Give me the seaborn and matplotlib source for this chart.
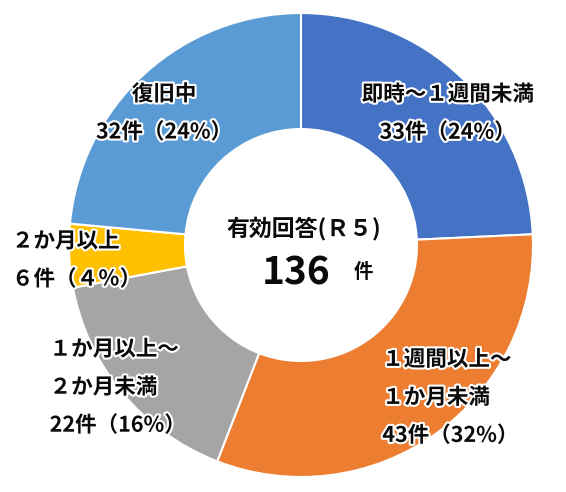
import numpy as np
import matplotlib
matplotlib.use('Agg')
import matplotlib.pyplot as plt
import matplotlib.patheffects as pe
import seaborn as sns

# data
categories = ['即時～１週間未満', '１週間以上～\n１か月未満', '１か月以上～\n２か月未満', '２か月以上', '復旧中']
counts = [33, 43, 22, 6, 32]
count_labels = ['33件（24%）', '43件（32%）', '22件（16%）', '６件（４％）', '32件（24%）']
total_label = '136'
center_title = '有効回答(Ｒ５)'

colors = ['#4472C4', '#ED7D31', '#A5A5A5', '#FFC000', '#5B9BD5']
# where the data labels sit: radius fraction, angle nudge (deg), line alignment
label_r = [0.85, 0.92, 1.0, 0.97, 0.82]
label_shift = [-4.4, 8.7, -1.9, 1.2, 3.7]
label_align = ['center', 'left', 'left', 'left', 'center']

sns.set_theme(style='white')
plt.rcParams['font.family'] = ['Noto Sans CJK JP', 'DejaVu Sans']

fig = plt.figure(figsize=(5.66, 4.92), dpi=100)
ax = fig.add_axes([0.1219, 0.0305, 0.8198, 0.943])

wedges, _ = ax.pie(
    counts,
    colors=colors,
    startangle=90,
    counterclock=False,
    radius=1.0,
    wedgeprops=dict(width=0.5, edgecolor='white', linewidth=1.5),
)

outline = [pe.withStroke(linewidth=3, foreground='white')]
for w, cat, cl, r, sh, al in zip(wedges, categories, count_labels,
                                 label_r, label_shift, label_align):
    mid = np.deg2rad((w.theta1 + w.theta2) / 2 + sh)
    ax.text(r * np.cos(mid), r * np.sin(mid), cat + '\n' + cl,
            ha='center', va='center', multialignment=al,
            fontsize=15.5, fontweight='bold', color='#0a0a0a',
            linespacing=2.0, path_effects=outline)

ax.text(0.01, 0.07, center_title, ha='center', va='center',
        fontsize=16.5, fontweight='bold', color='#0a0a0a')
ax.text(-0.02, -0.12, total_label, ha='center', va='center',
        fontsize=28, fontweight='bold', color='#0a0a0a')
ax.text(0.27, -0.12, '件', ha='center', va='center',
        fontsize=14, fontweight='bold', color='#0a0a0a')

ax.set_xlim(-1, 1)
ax.set_ylim(-1, 1)
ax.set_aspect('equal')
ax.axis('off')

fig.savefig('out.png', dpi=100)
